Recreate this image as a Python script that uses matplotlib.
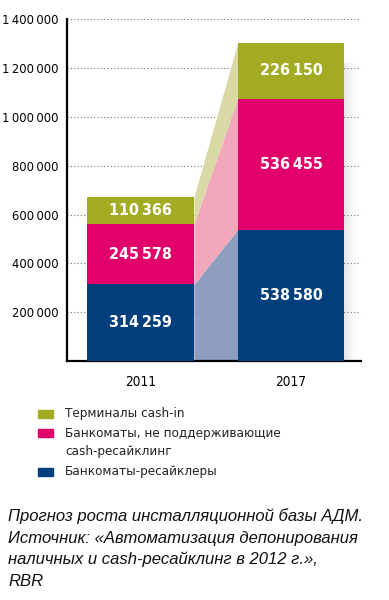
import matplotlib.pyplot as plt
from matplotlib.patches import Rectangle
from matplotlib import font_manager
import numpy as np

years = ['2011', '2017']
recyclers = [314259, 538580]
no_recycling = [245578, 536455]
cash_in = [110366, 226150]
series = [recyclers, no_recycling, cash_in]
colors = ['#013f7c', '#e2006a', '#a3ab22']
light = ['#8f9dbf', '#f2a7bb', '#d9d9a5']
yticks = [200000, 400000, 600000, 800000, 1000000, 1200000, 1400000]

# pick a narrow face if there is one
fonts = font_manager.fontManager.ttflist
names = {f.name for f in fonts}
stretch = 'normal'
if 'Liberation Sans Narrow' in names:
    fam = 'Liberation Sans Narrow'
elif any(f.name == 'DejaVu Sans' and f.stretch == 'condensed' for f in fonts):
    fam = 'DejaVu Sans'
    stretch = 'condensed'
else:
    fam = 'DejaVu Sans'
narrow = fam != 'DejaVu Sans' or stretch == 'condensed'
plt.rcParams['font.family'] = [fam, 'DejaVu Sans']
plt.rcParams['font.stretch'] = stretch

def fmt(v):
    return f'{v:,}'.replace(',', '\u2009')

fig = plt.figure(figsize=(3.89, 6), dpi=100)
ax = fig.add_axes([0.172, 0.398, 0.756, 0.57])

x = np.arange(len(years))
w = 0.71
bottoms = np.zeros(len(years))
vsize = 11.5 if narrow else 10
for vals, c, lc in zip(series, colors, light):
    vals = np.array(vals)
    ax.fill_between([x[0] + w / 2, x[1] - w / 2],
                    [bottoms[0], bottoms[1]],
                    [bottoms[0] + vals[0], bottoms[1] + vals[1]],
                    color=lc, lw=0, zorder=2)
    ax.bar(x, vals, w, bottom=bottoms, color=c, zorder=3, lw=0)
    for xi, b, v in zip(x, bottoms, vals):
        ax.text(xi, b + v / 2, fmt(v), color='white', ha='center', va='center',
                fontsize=vsize, fontweight='bold', zorder=4)
    bottoms = bottoms + vals

# soft shadow to the right of the 2017 bar
for i, a in enumerate([0.06, 0.045, 0.03, 0.02, 0.01]):
    ax.add_patch(Rectangle((x[1] + w / 2, -20000), 0.015 + i * 0.02, bottoms[1] - 60000,
                           color='grey', alpha=a, lw=0, zorder=1))

ax.set_xlim(-0.488, 1.465)
ax.set_ylim(0, 1400000)
ax.set_yticks(yticks)
ax.set_yticklabels([fmt(t) for t in yticks], fontsize=9.3 if narrow else 8)
ax.set_xticks(x)
ax.set_xticklabels(years, fontsize=9.8 if narrow else 9)
ax.tick_params(length=0, pad=6)
ax.tick_params(axis='x', pad=10)
ax.yaxis.grid(True, linestyle=(0, (1, 2)), color='#777777', lw=0.8, zorder=0)
ax.set_axisbelow(True)
for s in ['top', 'right']:
    ax.spines[s].set_visible(False)
ax.spines['left'].set_linewidth(1.6)
ax.spines['bottom'].set_linewidth(1.6)

# legend
lsize = 9.6 if narrow else 8.5
leg = [('Терминалы cash-in', colors[2], 414),
       ('Банкоматы, не поддерживающие', colors[1], 433),
       ('cash-ресайклинг', None, 452),
       ('Банкоматы-ресайклеры', colors[0], 472)]
for lab, c, ly in leg:
    if c is not None:
        fig.patches.append(Rectangle((38 / 389, 1 - (ly + 4) / 600), 15 / 389, 8 / 600,
                                     color=c, transform=fig.transFigure))
    fig.text(65 / 389, 1 - ly / 600, lab, fontsize=lsize, va='center', ha='left',
             color='#222222')

caption = ['Прогноз роста инсталляционной базы АДМ.',
           'Источник: «Автоматизация депонирования',
           'наличных и cash-ресайклинг в 2012 г.»,',
           'RBR']
for line, cy in zip(caption, [516, 538, 559, 582]):
    fig.text(8 / 389, 1 - cy / 600, line, fontsize=12, style='italic',
             family=['Liberation Sans', 'DejaVu Sans'], stretch='normal',
             va='center', ha='left', color='#111111')

fig.savefig('out.png', dpi=100)
